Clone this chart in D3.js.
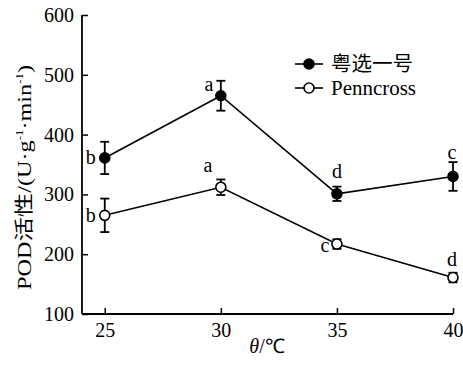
<!DOCTYPE html>
<html>
<head>
<meta charset="utf-8">
<script src="https://cdn.jsdelivr.net/npm/d3@7"></script>
<style>
  body { margin: 0; background: #fff; }
  svg text { font-family: "Liberation Serif", "Times New Roman", serif; fill: #000; }
  svg .cjk { font-family: "Noto Sans CJK SC", sans-serif; }
</style>
</head>
<body>
<svg id="chart" width="463" height="368"></svg>
<script>
const temps = [25, 30, 35, 40];
const yTicks = [100, 200, 300, 400, 500, 600];

// 粤选一号
const yuexuanMean = [361, 465, 301, 330];
const yuexuanErr = [27, 25, 12, 24];
const yuexuanSig = ['b', 'a', 'd', 'c'];

// Penncross
const pennMean = [265, 312, 217, 161];
const pennErr = [28, 13, 8, 8];
const pennSig = ['b', 'a', 'c', 'd'];

const seriesNames = ['粤选一号', 'Penncross'];

const SERIF = '"Liberation Serif", "Times New Roman", serif';
const svg = d3.select('#chart');
const margin = { left: 82, top: 15 };

const x = d3.scaleLinear().domain([24.02, 40]).range([margin.left, 453]);
const y = d3.scaleLinear().domain([100, 600]).range([314, 15]);

// axes, ticks pointing inward
const yAxis = svg.append('g').attr('transform', `translate(${margin.left},0)`)
  .call(d3.axisLeft(y).tickValues(yTicks).tickSizeInner(-6).tickSizeOuter(0).tickPadding(8));
const xAxis = svg.append('g').attr('transform', `translate(0,${y(100)})`)
  .call(d3.axisBottom(x).tickValues(temps).tickSizeInner(-6).tickSizeOuter(0).tickPadding(9));

[yAxis, xAxis].forEach(a => {
  a.attr('font-family', SERIF).attr('font-size', 20);
  a.select('.domain').attr('stroke', '#000').attr('stroke-width', 1.8);
  a.selectAll('.tick line').attr('stroke', '#000').attr('stroke-width', 1.5);
  a.selectAll('.tick text').attr('fill', '#000');
});
yAxis.select('.domain').attr('d', `M0,${y(600)}V${y(100)}`);
xAxis.select('.domain').attr('d', `M${margin.left},0H${x(40)}`);

// axis titles
svg.append('text')
  .attr('transform', `translate(31,${(65 + 290) / 2}) rotate(-90)`)
  .attr('text-anchor', 'middle').attr('font-size', 19)
  .attr('textLength', 225).attr('lengthAdjust', 'spacingAndGlyphs')
  .html('POD<tspan class="cjk">活性</tspan>/(U·g<tspan dy="-8" font-size="10">-1</tspan><tspan dy="8">·min</tspan><tspan dy="-8" font-size="10">-1</tspan><tspan dy="8">)</tspan>');

svg.append('text')
  .attr('x', 267).attr('y', 353).attr('text-anchor', 'middle').attr('font-size', 20)
  .html('<tspan font-style="italic">θ</tspan>/℃');

const line = d3.line().x((d, i) => x(temps[i])).y(d => y(d));

function drawSeries(means, errs, sigs, filled, labelPos) {
  const g = svg.append('g');
  g.append('path').datum(means).attr('d', line)
    .attr('fill', 'none').attr('stroke', '#000').attr('stroke-width', 1.6);

  const eb = g.selectAll('.eb').data(means).enter().append('g');
  eb.append('line')
    .attr('x1', (d, i) => x(temps[i])).attr('x2', (d, i) => x(temps[i]))
    .attr('y1', (d, i) => y(d + errs[i])).attr('y2', (d, i) => y(d - errs[i]))
    .attr('stroke', '#000').attr('stroke-width', 1.8);
  [1, -1].forEach(s => {
    eb.append('line')
      .attr('x1', (d, i) => x(temps[i]) - 4.5).attr('x2', (d, i) => x(temps[i]) + 4.5)
      .attr('y1', (d, i) => y(d + s * errs[i])).attr('y2', (d, i) => y(d + s * errs[i]))
      .attr('stroke', '#000').attr('stroke-width', 1.8);
  });

  g.selectAll('.pt').data(means).enter().append('circle')
    .attr('cx', (d, i) => x(temps[i])).attr('cy', d => y(d)).attr('r', 5)
    .attr('fill', filled ? '#000' : '#fff').attr('stroke', '#000').attr('stroke-width', 1.6);

  g.selectAll('.sig').data(means).enter().append('text')
    .attr('x', (d, i) => x(temps[i]) + labelPos[i][0])
    .attr('y', (d, i) => y(d) + labelPos[i][1])
    .attr('text-anchor', 'middle').attr('font-size', 20)
    .text((d, i) => sigs[i]);
}

drawSeries(yuexuanMean, yuexuanErr, yuexuanSig, true, [[-14, 6], [-12, -5], [0, -16], [-1, -17]]);
drawSeries(pennMean, pennErr, pennSig, false, [[-14, 7], [-13, -15], [-12, 8], [-1, -12]]);

// legend
const legend = svg.append('g');
seriesNames.forEach((name, i) => {
  const ly = 64 + i * 24;
  legend.append('line').attr('x1', 295).attr('x2', 323).attr('y1', ly).attr('y2', ly)
    .attr('stroke', '#000').attr('stroke-width', 1.6);
  legend.append('circle').attr('cx', 309).attr('cy', ly).attr('r', 5)
    .attr('fill', i === 0 ? '#000' : '#fff').attr('stroke', '#000').attr('stroke-width', 1.6);
  legend.append('text').attr('x', 331).attr('y', ly + 7).attr('font-size', 20)
    .attr('class', i === 0 ? 'cjk' : null)
    .attr('textLength', i === 0 ? 82 : 85).attr('lengthAdjust', 'spacingAndGlyphs')
    .text(name);
});
</script>
</body>
</html>
